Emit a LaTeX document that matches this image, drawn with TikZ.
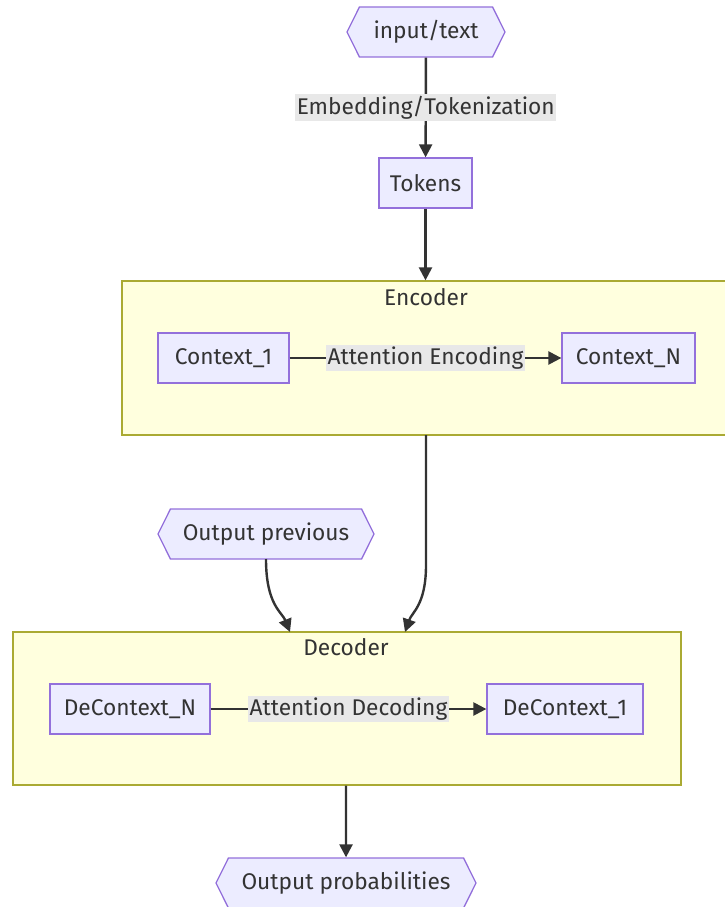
\documentclass[tikz,border=0pt]{standalone}
\usepackage{fontspec}
\setmainfont{Fira Sans}
\usetikzlibrary{shapes.symbols,arrows.meta}
\definecolor{nodefill}{HTML}{ECECFF}
\definecolor{nodedraw}{HTML}{9370DB}
\definecolor{clfill}{HTML}{FFFFDE}
\definecolor{cldraw}{HTML}{AAAA33}
\definecolor{edgec}{HTML}{333333}
\definecolor{lblbg}{HTML}{E8E8E8}
\tikzset{
  x=1pt,y=-1pt,
  every node/.style={font=\fontsize{22.7}{27}\selectfont, text=edgec},
  box/.style={draw=nodedraw, fill=nodefill, line width=1.3pt, rectangle, minimum height=50pt, inner sep=0pt},
  hexa/.style={draw=nodedraw, fill=nodefill, line width=1.3pt, signal, signal to=west and east, signal pointer angle=127, minimum height=50pt, inner sep=0pt},
  cluster/.style={draw=cldraw, fill=clfill, line width=1.3pt, rectangle, inner sep=0pt},
  ttl/.style={inner sep=0pt},
  lbl/.style={fill=lblbg, inner sep=1.5pt, text=edgec},
  conn/.style={draw=edgec, line width=2.4pt, -{Triangle[length=13pt,width=13pt]}},
}
\begin{document}
\begin{tikzpicture}
\useasboundingbox (0,0) rectangle (725,907);
% clusters
\node[cluster, minimum width=606pt, minimum height=154pt] (enc) at (425,358) {};
\node[ttl] (enct) at (426,297) {Encoder};
\node[cluster, minimum width=668pt, minimum height=153pt] (dec) at (347,708.5) {};
\node[ttl] (dect) at (346,647) {Decoder};
% nodes
\node[hexa, minimum width=158pt] (inp) at (426,32) {input/text};
\node[box, minimum width=93pt] (tok) at (425.5,183) {Tokens};
\node[box, minimum width=131pt] (c1) at (223.5,358) {Context\_1};
\node[box, minimum width=133pt] (cn) at (628.5,358) {Context\_N};
\node[hexa, minimum width=216pt] (prev) at (266,534) {Output previous};
\node[box, minimum width=160pt] (dn) at (130,709) {DeContext\_N};
\node[box, minimum width=156pt] (d1) at (565,709) {DeContext\_1};
\node[hexa, minimum width=260pt] (outp) at (346,883) {Output probabilities};
% connectors
\path[conn] (inp) -- node[lbl] {Embedding/Tokenization} (tok);
\path[conn] (tok) -- (tok |- enc.north);
\path[conn] (c1) -- node[lbl] {Attention Encoding} (cn);
\path[conn] (dn) -- node[lbl] {Attention Decoding} (d1);
\coordinate (encb) at (426,435);
\coordinate (decr) at (405,632);
\coordinate (decl) at (290,632);
\coordinate (prevb) at (266,559);
\path[conn] (encb) -- (426,565) .. controls (426,605) and (412,612) .. (decr);
\path[conn] (prevb) .. controls (266,605) and (282,612) .. (decl);
\path[conn] (dec.south -| outp) -- (outp);
\end{tikzpicture}
\end{document}
